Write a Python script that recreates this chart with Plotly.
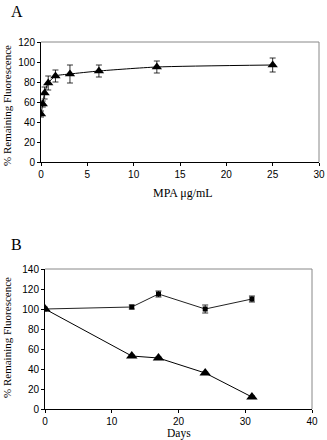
import plotly.graph_objects as go

# Panel A data
mpa_conc = [0, 0.19, 0.39, 0.78, 1.56, 3.125, 6.25, 12.5, 25]
mpa_fluor = [48, 58, 69, 79, 86, 88, 91, 95, 97]
mpa_err = [3, 3, 6, 7, 6, 9, 6, 6, 7]

# Panel B data
days = [0, 13, 17, 24, 31]
stable_fluor = [100, 102, 115, 100, 110]
stable_err = [0, 2, 3, 4, 3]
decay_fluor = [100, 53, 51, 36, 12]
decay_err = [0, 1, 1, 1, 1]

W, H = 327, 440
serif = "Liberation Serif, Times New Roman, serif"
sans = "Liberation Sans, Arial, sans-serif"

fig = go.Figure()

fig.add_trace(go.Scatter(
    x=mpa_conc, y=mpa_fluor, mode="lines+markers",
    line=dict(color="black", width=1, shape="spline", smoothing=0.6),
    marker=dict(symbol="triangle-up", size=9, color="black"),
    error_y=dict(type="data", array=mpa_err, color="black", thickness=0.8, width=3),
    xaxis="x", yaxis="y", showlegend=False))

fig.add_trace(go.Scatter(
    x=days, y=stable_fluor, mode="lines+markers",
    line=dict(color="#222", width=1),
    marker=dict(symbol="square", size=5, color="black"),
    error_y=dict(type="data", array=stable_err, color="black", thickness=0.8, width=3),
    xaxis="x2", yaxis="y2", showlegend=False))

fig.add_trace(go.Scatter(
    x=days, y=decay_fluor, mode="lines+markers",
    line=dict(color="black", width=1),
    marker=dict(symbol="triangle-up", size=10, color="black"),
    error_y=dict(type="data", array=decay_err, color="black", thickness=0.8, width=3),
    xaxis="x2", yaxis="y2", showlegend=False))

axcommon = dict(showgrid=False, zeroline=False, showline=True, linecolor="black",
                linewidth=1, ticks="outside", ticklen=3, tickcolor="black", automargin=False,
                tickfont=dict(family=sans, size=10, color="black"))

fig.update_layout(
    width=W, height=H, margin=dict(l=0, r=0, t=0, b=0),
    paper_bgcolor="white", plot_bgcolor="white",
    xaxis=dict(domain=[41/W, 319/W], range=[0, 30], dtick=5, anchor="y", **axcommon),
    yaxis=dict(domain=[1-162/H, 1-42/H], range=[0, 120], dtick=20, anchor="x", **axcommon),
    xaxis2=dict(domain=[45/W, 312/W], range=[0, 40], dtick=10, anchor="y2", **axcommon),
    yaxis2=dict(domain=[1-409/H, 1-269/H], range=[0, 140], dtick=20, anchor="x2", **axcommon),
)

# gray top/right frame
for xr, yr in [("x domain", "y domain"), ("x2 domain", "y2 domain")]:
    fig.add_shape(type="line", xref=xr, yref=yr, x0=0, x1=1, y0=1, y1=1, line=dict(color="#888", width=1))
    fig.add_shape(type="line", xref=xr, yref=yr, x0=1, x1=1, y0=0, y1=1, line=dict(color="#888", width=1))

def ann(text, x, y, size=12, angle=0):
    fig.add_annotation(text=text, x=x/W, y=1-y/H, xref="paper", yref="paper", showarrow=False,
                       xanchor="center", yanchor="middle", textangle=angle,
                       font=dict(family=serif, size=size, color="black"))

ann("A", 17, 12, size=16)
ann("B", 16, 245, size=16)
ann("MPA μg/mL", 183, 193)
ann("Days", 179, 433, size=11.5)
ann("% Remaining Fluorescence", 7, 106, size=11, angle=-90)
ann("% Remaining Fluorescence", 7, 338, size=11, angle=-90)

fig.write_html("out.html", config={"displayModeBar": False},
               post_script="document.body.style.margin='0';document.body.style.overflow='hidden';")
